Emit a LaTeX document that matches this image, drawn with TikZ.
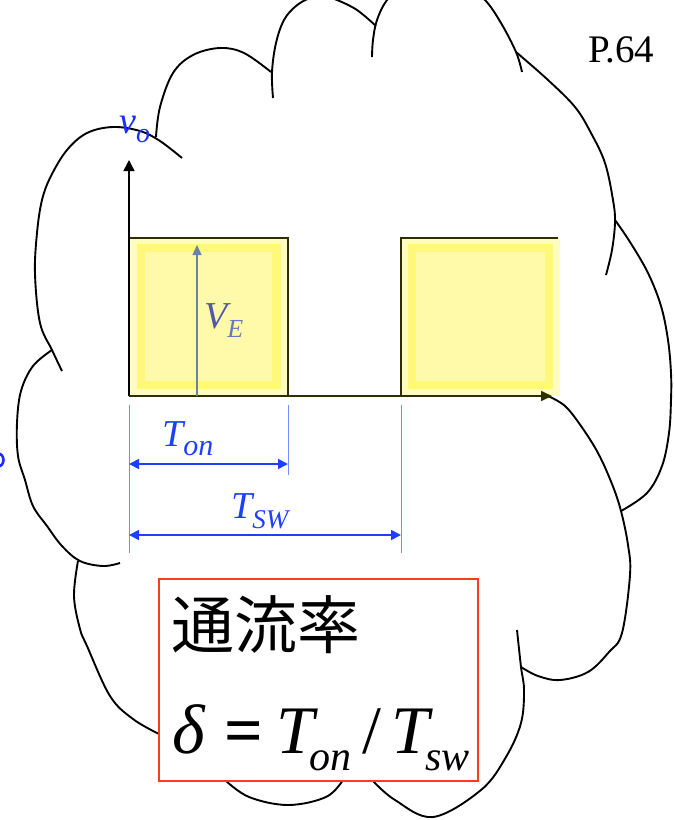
\documentclass[tikz,border=0pt]{standalone}
\usepackage{fontspec}
\setmainfont{Liberation Serif}
\newfontfamily\cjk{Noto Sans CJK JP}
\usetikzlibrary{arrows.meta}
\definecolor{wave}{HTML}{2E2E00}
\definecolor{outerY}{HTML}{FFFCC0}
\definecolor{bandY}{HTML}{FFF87A}
\definecolor{innerY}{HTML}{FFFAAA}
\definecolor{dimblue}{HTML}{1F3FFF}
\definecolor{tickblue}{HTML}{7090FF}
\definecolor{vecol}{HTML}{6A82A8}
\definecolor{velab}{HTML}{5058A8}
\definecolor{velab2}{HTML}{6878B8}
\definecolor{boxred}{HTML}{FF3B1F}
\definecolor{vblue}{HTML}{1A2EFF}
\newcommand{\fs}[1]{\fontsize{#1}{#1}\selectfont}
\begin{document}
\begin{tikzpicture}[x=1pt,y=-1pt,
  cloudline/.style={line width=1.9pt, black},
  dimline/.style={dimblue, line width=1.8pt, {Triangle[length=10pt,width=10pt]}-{Triangle[length=10pt,width=10pt]}},
  tickline/.style={tickblue, line width=1pt},
  lbl/.style={inner sep=0pt, anchor=base west},
  waveline/.style={wave, line width=1.6pt},
]
\useasboundingbox (0,0) rectangle (673,820);
% ---------- cloud ----------
\draw[cloudline] plot[smooth, tension=0.6] coordinates {(120,563) (103,566) (80,561) (62,546) (47,526) (33,506) (25,480) (18,456) (17,423) (21,391) (33,366) (52,350)};
\draw[cloudline] plot[smooth, tension=0.6] coordinates {(62,371) (52,350) (40,323) (35,274) (37,233) (42,200) (51,176) (67,150) (87,133) (113,127) (140,131) (160,141) (182,158)};
\draw[cloudline] plot[smooth, tension=0.6] coordinates {(156,137) (160,107) (173,73) (193,55) (220,48) (244,53) (271,72)};
\draw[cloudline] plot[smooth, tension=0.6] coordinates {(273,98) (272,72) (276,43) (284,20) (296,6) (310,-2) (323,-4) (337,0) (357,10) (376,26)};
\draw[cloudline] plot[smooth, tension=0.6] coordinates {(372,57) (373,40) (377,20) (387,0) (405,-17) (436,-24) (465,-15) (485,0) (501,23) (516,52) (522,72)};
\draw[cloudline] plot[smooth, tension=0.6] coordinates {(516,52) (548,80) (575,107) (591,133) (605,163) (613,200) (615,222) (612,250) (606,275)};
\draw[cloudline] plot[smooth, tension=0.6] coordinates {(615,220) (630,242) (648,273) (661,306) (668,340) (671,373) (671,400) (669,433) (662,466) (647,493) (621,511)};
\draw[cloudline] plot[smooth, tension=0.6] coordinates {(548,396) (565,406) (581,426) (598,453) (612,484) (621,511) (628,545) (630,575) (622,633) (609,652) (588,672) (560,680) (538,676) (521,667)};
\draw[cloudline] plot[smooth, tension=0.6] coordinates {(517,630) (521,667) (524,690) (521,723) (506,757) (481,790) (433,817) (395,800) (373,781)};
\draw[cloudline] plot[smooth, tension=0.6] coordinates {(343,780) (326,797) (288,805) (249,797) (225,780)};
\draw[cloudline] plot[smooth, tension=0.6] coordinates {(78,561) (74,596) (80,629) (87,646) (110,696) (133,719) (159,734)};
% ---------- pulses ----------
\fill[outerY] (129,238) rectangle (288,396);
\fill[bandY] (137,244) rectangle (281,389);
\fill[innerY] (145,252) rectangle (272,381);
\fill[outerY] (401,238) rectangle (560,396);
\fill[bandY] (408,244) rectangle (553,389);
\fill[innerY] (416,252) rectangle (545,381);
\coordinate (O) at (129,396);
\coordinate (ytip) at (129,160);
\coordinate (xtip) at (552,396);
\coordinate (p1) at (129,238);
\coordinate (p2) at (288,238);
\coordinate (p3) at (288,396);
\coordinate (p4) at (401,396);
\coordinate (p5) at (401,238);
\coordinate (p6) at (558,238);
\draw[waveline] (p1) -- (p2) -- (p3);
\draw[waveline] (p4) -- (p5) -- (p6);
\draw[black, line width=1.5pt, -{Triangle[length=11pt,width=11pt]}] (O) -- (ytip);
\draw[wave, line width=1.6pt, -{Triangle[length=11pt,width=10pt]}] (O) -- (xtip);
% V_E arrow
\coordinate (ve0) at (197,396);
\coordinate (ve1) at (197,245);
\draw[vecol, line width=1.3pt, -{Triangle[length=10pt,width=9pt]}] (ve0) -- (ve1);
\node[lbl, text=velab, font=\fs{38}\itshape] (VE) at (204,328) {V\raisebox{-9pt}{\color{velab2}\fs{26}E}};
% v_o label
\node[lbl, text=vblue, font=\fs{38}\itshape] (vo) at (119,133) {v\raisebox{-9pt}{\fs{28}o}};
% fragment of a blue glyph at the left edge
\draw[vblue, line width=2.6pt] (-2,460) ellipse [x radius=5.5pt, y radius=6.5pt];
% ---------- dimensions ----------
\coordinate (t0a) at (129,405); \coordinate (t0b) at (129,553);
\coordinate (t1a) at (288,405); \coordinate (t1b) at (288,475);
\coordinate (t2a) at (401,405); \coordinate (t2b) at (401,553);
\draw[tickline] (t0a) -- (t0b);
\draw[tickline] (t1a) -- (t1b);
\draw[tickline] (t2a) -- (t2b);
\coordinate (a1l) at (129,464); \coordinate (a1r) at (288,464);
\coordinate (a2l) at (129,535); \coordinate (a2r) at (401,535);
\draw[dimline] (a1l) -- (a1r);
\draw[dimline] (a2l) -- (a2r);
\node[lbl, text=dimblue, font=\fs{38}\itshape] (Ton) at (162,446) {T\raisebox{-9pt}{\fs{30}on}};
\node[lbl, text=dimblue, font=\fs{38}\itshape] (Tsw) at (231,518) {T\raisebox{-10pt}{\fs{27}SW}};
% page number
\node[lbl, font=\fs{39}] (page) at (588,62) {P.64};
% ---------- box ----------
\node[draw=boxred, line width=2pt, fill=white, minimum width=319pt, minimum height=202pt, inner sep=0pt] (box) at (318.5,680) {};
\node[lbl, font=\cjk\fs{63}] (title) at (171,648) {通流率};
\node[lbl, font=\fs{70}\itshape] (delta) at (172,753) {δ};
\node[lbl, font=\fs{68}\bfseries] (eq) at (224,753) {=};
\node[lbl, font=\fs{68}\itshape] (T1) at (276,753) {T};
\node[lbl, font=\fs{42}\itshape] (on) at (309,770) {on};
\node[lbl, font=\fs{68}] (slash) at (362,753) {/};
\node[lbl, font=\fs{68}\itshape] (T2) at (391,753) {T};
\node[lbl, font=\fs{42}\itshape] (sw) at (425,770) {sw};
\end{tikzpicture}
\end{document}
